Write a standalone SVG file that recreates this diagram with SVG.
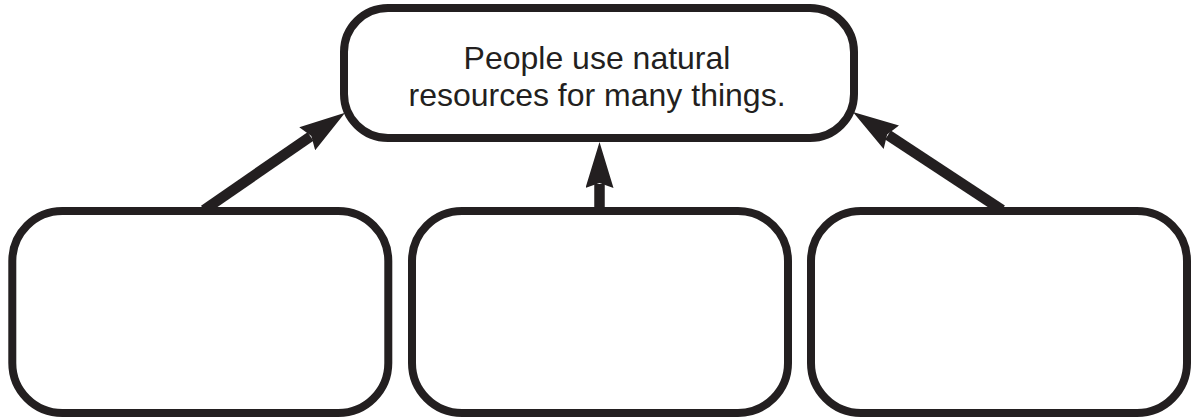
<svg xmlns="http://www.w3.org/2000/svg" width="1197" height="420" viewBox="0 0 1197 420">
<style>
.box{fill:#fff;stroke:#231f20;stroke-width:8}
.conn{stroke:#231f20;stroke-width:10.5;fill:none}
.lbl{font-family:"Liberation Sans",Arial,sans-serif;font-size:32px;fill:#231f20;text-anchor:middle}
</style>
<defs>
<marker id="ah" markerUnits="userSpaceOnUse" markerWidth="48" markerHeight="28" viewBox="0 0 48 28" refX="4" refY="14" orient="auto">
<path d="M0,0 L46,14 L0,28 L5,14 Z" fill="#231f20"/>
</marker>
</defs>
<rect width="1197" height="420" fill="#fff"/>
<g id="connectors">
<line class="conn" x1="204" y1="210" x2="310.5" y2="136.5" marker-end="url(#ah)"/>
<line class="conn" x1="599.5" y1="210" x2="599.5" y2="184" marker-end="url(#ah)"/>
<line class="conn" x1="1002" y1="210" x2="888" y2="135" marker-end="url(#ah)"/>
</g>
<g id="top">
<rect class="box" x="344" y="8" width="510" height="130" rx="44" ry="44"/>
<text class="lbl" x="597" y="69">People use natural</text>
<text class="lbl" x="597" y="106">resources for many things.</text>
</g>
<g id="left">
<rect class="box" x="12.3" y="211" width="376" height="202" rx="50" ry="50"/>
</g>
<g id="middle">
<rect class="box" x="412" y="211" width="376" height="202" rx="50" ry="50"/>
</g>
<g id="right">
<rect class="box" x="811" y="211" width="376" height="202" rx="50" ry="50"/>
</g>
</svg>
